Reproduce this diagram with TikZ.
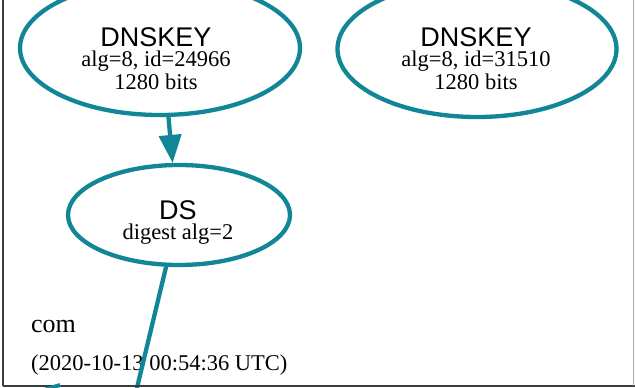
\documentclass[tikz,border=0pt]{standalone}
\usepackage{fontspec}
\setmainfont{Liberation Serif}
\newfontfamily\hel{Liberation Sans}
\usetikzlibrary{shapes.geometric,arrows.meta}
\definecolor{teal1}{RGB}{16,134,150}
\definecolor{frame1}{RGB}{60,60,60}
\definecolor{frame2}{RGB}{170,170,170}
\newcommand{\bigsf}[1]{{\hel\fontsize{27}{23}\selectfont #1}}
\tikzset{
  rr/.style={draw=teal1,line width=4.3pt,ellipse,inner sep=0pt},
  txt/.style={font=\fontsize{22.5}{23}\selectfont,align=center,anchor=base,inner sep=0pt},
  lbl/.style={anchor=base west,inner sep=0pt},
  edge1/.style={draw=teal1,line width=4.3pt},
  arr/.style={edge1,-{Triangle[length=28pt,width=22pt]}}
}
\begin{document}
\begin{tikzpicture}[x=1pt,y=-1pt]
\useasboundingbox (0,0) rectangle (635,388);
\clip (0,0) rectangle (635,388);
\fill[white] (0,0) rectangle (635,388);
% ellipses
\node[rr,minimum width=280pt,minimum height=134pt] (dk1) at (160,48) {};
\node[rr,minimum width=279pt,minimum height=136pt] (dk2) at (477,49) {};
\node[rr,minimum width=222pt,minimum height=100pt] (ds) at (179,215) {};
% texts (base anchor = baseline of last line)
\node[txt] (dk1t) at (156,89) {\bigsf{DNSKEY}\\[-3pt] alg=8, id=24966\\ 1280 bits};
\node[txt] (dk2t) at (476,89) {\bigsf{DNSKEY}\\[-3pt] alg=8, id=31510\\ 1280 bits};
\node[txt] (dst) at (178,239) {\bigsf{DS}\\[-3pt] digest alg=2};
\node[lbl,font=\fontsize{26}{28}\selectfont] (zone) at (31,332) {com};
\node[lbl,font=\fontsize{22.5}{25}\selectfont] (time) at (31,370) {(2020-10-13 00:54:36 UTC)};
% connectors
\coordinate (exit) at (136,392);
\coordinate (stubA) at (44,390);
\coordinate (stubB) at (60,385);
\draw[arr] (dk1.277) -- (ds.97);
\draw[edge1] (ds.256) -- (exit);
% frame
\draw[frame1,line width=1.5pt] (3,0) -- (3,386);
\draw[frame1,line width=2pt] (3,386) -- (635,386);
\draw[frame2,line width=1.5pt] (633.5,0) -- (633.5,386);
\draw[teal1,line width=4pt] (stubA) -- (stubB);
\end{tikzpicture}
\end{document}
